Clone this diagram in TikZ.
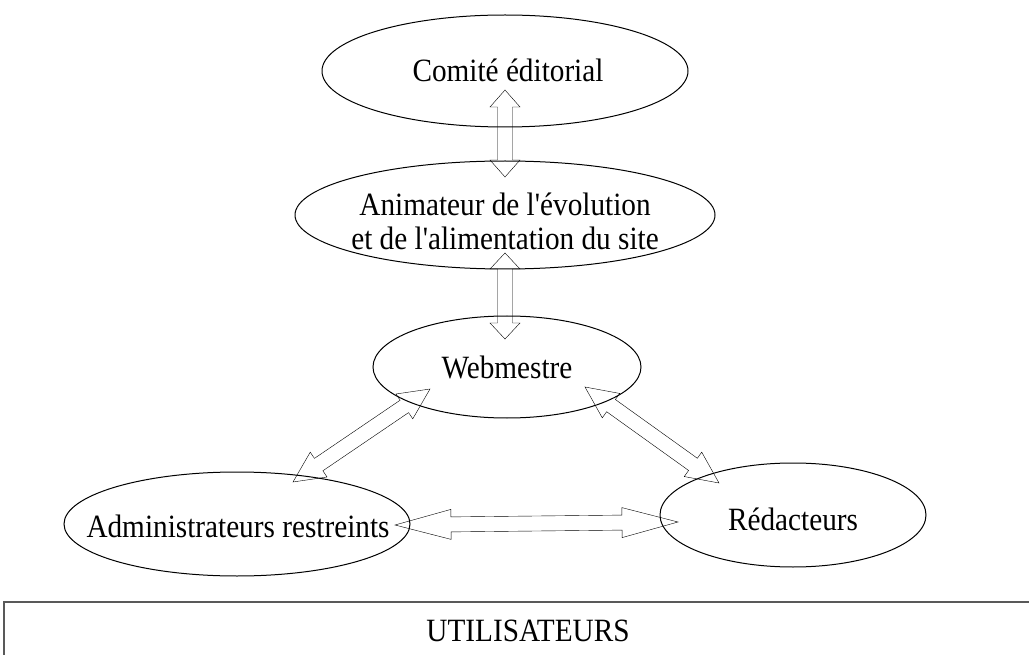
\documentclass[tikz,border=0pt]{standalone}
\usepackage{fontspec}
\setmainfont{Liberation Serif}
\usetikzlibrary{shapes.geometric,calc,positioning}

\newcommand{\narrow}[1]{\scalebox{0.9}[1]{#1}}

\tikzset{
  blockarrow/.style={fill=white, draw=black, line width=1pt, line join=miter, to path={
    (\tikztostart)
    -- ($(\tikztostart)!#1!(\tikztotarget)!15pt!90:(\tikztotarget)$)
    -- ($(\tikztostart)!#1!(\tikztotarget)!7.5pt!90:(\tikztotarget)$)
    -- ($(\tikztotarget)!#1!(\tikztostart)!7.5pt!-90:(\tikztostart)$)
    -- ($(\tikztotarget)!#1!(\tikztostart)!15pt!-90:(\tikztostart)$)
    -- (\tikztotarget)
    -- ($(\tikztotarget)!#1!(\tikztostart)!15pt!90:(\tikztostart)$)
    -- ($(\tikztotarget)!#1!(\tikztostart)!7.5pt!90:(\tikztostart)$)
    -- ($(\tikztostart)!#1!(\tikztotarget)!7.5pt!-90:(\tikztotarget)$)
    -- ($(\tikztostart)!#1!(\tikztotarget)!15pt!-90:(\tikztotarget)$)
    -- cycle}},
  blockarrow/.default=17pt
}

\begin{document}
\begin{tikzpicture}[x=1pt, y=-1pt, font=\fontsize{32.5}{34}\selectfont]
   \useasboundingbox (0,0) rectangle (1029,655);
   \begin{scope}[every node/.style={ellipse,draw,line width=1pt,inner sep=0pt}]
    \node (comite) [minimum width=366pt, minimum height=112pt] at (505,71) {};
    \node (anim) [minimum width=420pt, minimum height=108pt] at (505,215) {};
    \node (web) [minimum width=268pt, minimum height=102pt] at (507,367) {};
    \node (admin) [minimum width=346pt, minimum height=104pt] at (237,524) {};
    \node (redac) [minimum width=266pt, minimum height=104pt] at (793,515) {};
   \end{scope}
   % arrow ends
   \coordinate (a1) at (505,90);
   \coordinate (b1) at (505,177);
   \coordinate (a2) at (505,253);
   \coordinate (b2) at (505,339);
   \coordinate (a3) at (430,389);
   \coordinate (b3) at (293,482);
   \coordinate (a4) at (585,387);
   \coordinate (b4) at (719,483);
   \coordinate (a5) at (395,525);
   \coordinate (b5) at (678,522);
   \draw (a1) to[blockarrow] (b1);
   \draw (a2) to[blockarrow=16pt] (b2);
   \draw (a3) to[blockarrow=31pt] (b3);
   \draw (a4) to[blockarrow=32pt] (b4);
   \draw (a5) to[blockarrow=56pt] (b5);
   \begin{scope}[every node/.style={anchor=base,inner sep=0pt}]
    \node (comite-t) at (508,82) {\narrow{Comité éditorial}};
    \node (anim-t) [align=center] at (505,250) {\narrow{Animateur de l\textquotesingle évolution}\\\narrow{et de l\textquotesingle alimentation du site}};
    \node (web-t) at (507,378) {\narrow{Webmestre}};
    \node (admin-t) at (238,537) {\narrow{Administrateurs restreints}};
    \node (redac-t) at (793,530) {\narrow{Rédacteurs}};
   \end{scope}
   % utilisateurs
   \draw[line width=1.5pt, black!65] (4,602) rectangle (1045,680);
   \node (users) [anchor=base] at (528,641) {\narrow{UTILISATEURS}};
\end{tikzpicture}
\end{document}
